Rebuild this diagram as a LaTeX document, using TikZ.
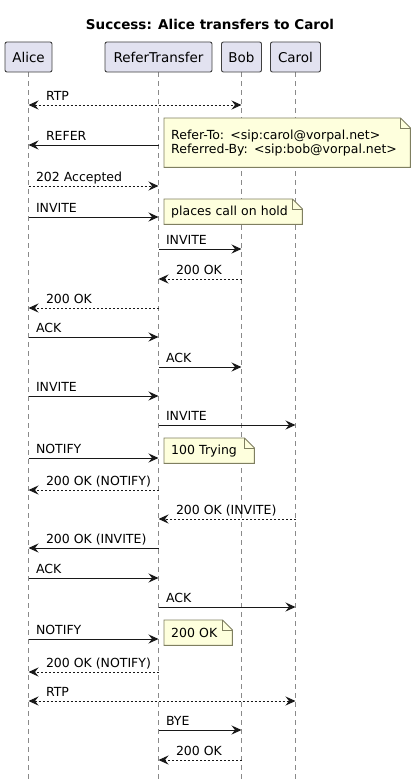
\documentclass[tikz,border=0pt]{standalone}
\usepackage{fontspec}
\setmainfont{DejaVu Sans}
\usetikzlibrary{arrows.meta}

\pgfdeclarelayer{lifelines}
\pgfdeclarelayer{notes}
\pgfsetlayers{lifelines,notes,main}

\definecolor{headfill}{HTML}{E2E2F0}
\definecolor{headline}{HTML}{404040}
\definecolor{notefill}{HTML}{FEFFDD}
\definecolor{noteline}{HTML}{7F7F60}
\definecolor{lifegray}{HTML}{8A8A8A}
\definecolor{arrowink}{HTML}{181818}

\begin{document}
\begin{tikzpicture}[x=1pt,y=-1pt,
    font=\fontsize{12.5}{14}\selectfont,
    >={Stealth[length=10pt,width=9pt,inset=3.5pt]},
    head/.style={draw=headline,fill=headfill,rounded corners=2pt,minimum height=30pt,inner sep=0pt,line width=0.9pt,font=\fontsize{13.5}{16}\selectfont},
    lifeline/.style={draw=lifegray,dash pattern=on 5pt off 4pt,line width=0.8pt},
    msg/.style={draw=arrowink,line width=1pt,->},
    reply/.style={msg,dash pattern=on 2pt off 2pt},
    bidir/.style={draw=arrowink,line width=1pt,<->,dash pattern=on 2pt off 2pt},
    lbl/.style={anchor=base west,inner sep=0pt,yshift=4.5pt},
    note/.style={anchor=north west,inner xsep=7pt,inner ysep=0pt,align=left},
    notebody/.style={draw=noteline,fill=notefill,line width=0.9pt}
    ]

    \useasboundingbox (0,0) rectangle (416,784);

    \node(title) [font=\bfseries\fontsize{13.5}{16}\selectfont] at (210,24) {Success: Alice transfers to Carol};

    % participants
    \node(alice) [head,minimum width=47pt] at (28.5,57) {Alice};
    \node(refer) [head,minimum width=107pt] at (158.5,57) {ReferTransfer};
    \node(bob) [head,minimum width=40pt] at (241.5,57) {Bob};
    \node(carol) [head,minimum width=50pt] at (295.5,57) {Carol};

    \begin{pgfonlayer}{lifelines}
      \draw[lifeline] (alice.south) -- (alice.south |- 0,780);
      \draw[lifeline] (refer.south) -- (refer.south |- 0,780);
      \draw[lifeline] (bob.south) -- (bob.south |- 0,780);
      \draw[lifeline] (carol.south) -- (carol.south |- 0,780);
    \end{pgfonlayer}

    % notes
    \node(referto) [note,text width=232pt,minimum height=49pt] at (164,118) {Refer-To: <sip:carol@vorpal.net>\\Referred-By: <sip:bob@vorpal.net>};
    \node(hold) [note,text width=124pt,minimum height=25pt] at (164,199) {places call on hold};
    \node(trying) [note,text width=76pt,minimum height=25pt] at (164,438) {100 Trying};
    \node(okay) [note,text width=54pt,minimum height=25pt] at (164,620) {200 OK};

    \begin{pgfonlayer}{notes}
      \path[notebody] (referto.north west) -- ([xshift=-10pt]referto.north east) -- ([yshift=-10pt]referto.north east) -- (referto.south east) -- (referto.south west) -- cycle;
      \draw[notebody,fill=none] ([xshift=-10pt]referto.north east) |- ([yshift=-10pt]referto.north east);
      \path[notebody] (hold.north west) -- ([xshift=-10pt]hold.north east) -- ([yshift=-10pt]hold.north east) -- (hold.south east) -- (hold.south west) -- cycle;
      \draw[notebody,fill=none] ([xshift=-10pt]hold.north east) |- ([yshift=-10pt]hold.north east);
      \path[notebody] (trying.north west) -- ([xshift=-10pt]trying.north east) -- ([yshift=-10pt]trying.north east) -- (trying.south east) -- (trying.south west) -- cycle;
      \draw[notebody,fill=none] ([xshift=-10pt]trying.north east) |- ([yshift=-10pt]trying.north east);
      \path[notebody] (okay.north west) -- ([xshift=-10pt]okay.north east) -- ([yshift=-10pt]okay.north east) -- (okay.south east) -- (okay.south west) -- cycle;
      \draw[notebody,fill=none] ([xshift=-10pt]okay.north east) |- ([yshift=-10pt]okay.north east);
    \end{pgfonlayer}

    % messages
    \draw[bidir] (alice |- 0,105) -- node[lbl,pos=0,xshift=17pt] {RTP} (bob |- 0,105);
    \draw[msg] (refer |- 0,145) -- node[lbl,pos=1,xshift=17pt] {REFER} (alice |- 0,145);
    \draw[reply] (alice |- 0,186) -- node[lbl,pos=0,xshift=7pt] {202 Accepted} (refer |- 0,186);
    \draw[msg] (alice |- 0,217) -- node[lbl,pos=0,xshift=7pt] {INVITE} (refer |- 0,217);
    \draw[msg] (refer |- 0,249) -- node[lbl,pos=0,xshift=7pt] {INVITE} (bob |- 0,249);
    \draw[reply] (bob |- 0,279) -- node[lbl,pos=1,xshift=17pt] {200 OK} (refer |- 0,279);
    \draw[reply] (refer |- 0,308) -- node[lbl,pos=1,xshift=17pt] {200 OK} (alice |- 0,308);
    \draw[msg] (alice |- 0,337) -- node[lbl,pos=0,xshift=7pt] {ACK} (refer |- 0,337);
    \draw[msg] (refer |- 0,367) -- node[lbl,pos=0,xshift=7pt] {ACK} (bob |- 0,367);
    \draw[msg] (alice |- 0,396) -- node[lbl,pos=0,xshift=7pt] {INVITE} (refer |- 0,396);
    \draw[msg] (refer |- 0,425) -- node[lbl,pos=0,xshift=7pt] {INVITE} (carol |- 0,425);
    \draw[msg] (alice |- 0,458) -- node[lbl,pos=0,xshift=7pt] {NOTIFY} (refer |- 0,458);
    \draw[reply] (refer |- 0,490) -- node[lbl,pos=1,xshift=17pt] {200 OK (NOTIFY)} (alice |- 0,490);
    \draw[reply] (carol |- 0,519) -- node[lbl,pos=1,xshift=17pt] {200 OK (INVITE)} (refer |- 0,519);
    \draw[msg] (refer |- 0,548) -- node[lbl,pos=1,xshift=17pt] {200 OK (INVITE)} (alice |- 0,548);
    \draw[msg] (alice |- 0,578) -- node[lbl,pos=0,xshift=7pt] {ACK} (refer |- 0,578);
    \draw[msg] (refer |- 0,607) -- node[lbl,pos=0,xshift=7pt] {ACK} (carol |- 0,607);
    \draw[msg] (alice |- 0,639) -- node[lbl,pos=0,xshift=7pt] {NOTIFY} (refer |- 0,639);
    \draw[reply] (refer |- 0,672) -- node[lbl,pos=1,xshift=17pt] {200 OK (NOTIFY)} (alice |- 0,672);
    \draw[bidir] (alice |- 0,701) -- node[lbl,pos=0,xshift=17pt] {RTP} (carol |- 0,701);
    \draw[msg] (refer |- 0,730) -- node[lbl,pos=0,xshift=7pt] {BYE} (bob |- 0,730);
    \draw[reply] (bob |- 0,760) -- node[lbl,pos=1,xshift=17pt] {200 OK} (refer |- 0,760);

  \end{tikzpicture}
\end{document}
